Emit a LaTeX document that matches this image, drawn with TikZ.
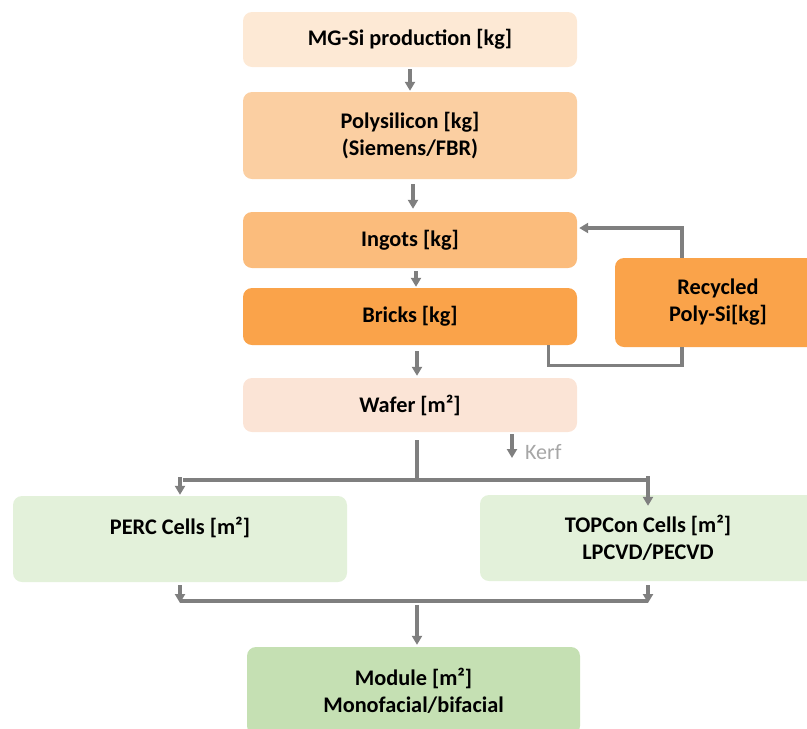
\documentclass[tikz,border=0pt]{standalone}
\usepackage{fontspec}
\setmainfont{Carlito}
\usetikzlibrary{arrows.meta,calc}

\definecolor{mgfill}{HTML}{FDE9D5}
\definecolor{polyfill}{HTML}{FBCFA2}
\definecolor{ingotfill}{HTML}{FBBC7C}
\definecolor{brickfill}{HTML}{FAA34A}
\definecolor{waferfill}{HTML}{FBE4D6}
\definecolor{cellfill}{HTML}{E3F1DA}
\definecolor{modfill}{HTML}{C5E0B3}
\definecolor{linegray}{HTML}{7F7F7F}
\definecolor{kerfgray}{HTML}{A6A6A6}

\begin{document}
\begin{tikzpicture}[x=1pt,y=-1pt,
  box/.style={rounded corners=9pt, inner sep=0pt, align=center,
    font=\bfseries\fontsize{22.3}{27}\selectfont},
  flow/.style={draw=linegray, line width=3.1pt,
    -{Triangle[length=9pt,width=10pt]}},
  link/.style={draw=linegray, line width=3.1pt}]
\useasboundingbox (0,0) rectangle (807,729);

% silicon chain
\node[box, fill=mgfill, minimum width=334pt, minimum height=55pt] (mg) at (410,39.5) {MG-Si production [kg]};
\node[box, fill=polyfill, minimum width=334pt, minimum height=87pt] (poly) at (410,135.5) {Polysilicon [kg]\\(Siemens/FBR)};
\node[box, fill=ingotfill, minimum width=334pt, minimum height=56pt] (ingots) at (410,240) {Ingots [kg]};
\node[box, fill=brickfill, minimum width=334pt, minimum height=57pt] (bricks) at (410,316.5) {Bricks [kg]};
\node[box, fill=brickfill, minimum width=206pt, minimum height=89pt] (rec) at (718,302.5) {Recycled\\Poly-Si[kg]};
\node[box, fill=waferfill, minimum width=334pt, minimum height=54pt] (wafer) at (410,405) {Wafer [m²]};

% cells and module
\node[box, fill=cellfill, minimum width=334pt, minimum height=86pt] (perc) at (180,539) {PERC Cells [m²]\\\mbox{}};
\node[box, fill=cellfill, minimum width=336pt, minimum height=86pt] (topcon) at (648,538) {TOPCon Cells [m²]\\LPCVD/PECVD};
\node[box, fill=modfill, minimum width=333pt, minimum height=88pt] (module) at (413.5,691) {Module [m²]\\Monofacial/bifacial};

\node[anchor=west, inner sep=0pt, text=kerfgray, font=\fontsize{22}{26}\selectfont] (kerf) at (525,452) {Kerf};

% main flow arrows
\draw[flow] ($(mg.south)+(0,2)$) -- ($(poly.north)+(0,-1)$);
\draw[flow] ($(poly.south)+(3,5)$) -- ($(ingots.north)+(3,-3)$);
\draw[flow] ($(ingots.south)+(6,3)$) -- ($(bricks.north)+(6,-1)$);
\draw[flow] ($(bricks.south)+(7,6)$) -- ($(wafer.north)+(7,-2)$);

% recycling loop
\draw[link] ($(bricks.south east)+(-29,0)$) -- ++(0,20) -| ($(rec.south)+(-36,0)$);
\draw[flow] ($(rec.north)+(-36,0)$) |- ($(ingots.east)+(2,-12)$);

% kerf loss
\coordinate (kerfend) at (512,458);
\draw[flow] (512,434) -- (kerfend);

% split to the two cell routes
\coordinate (split) at ($(wafer.south)+(7,48)$);
\coordinate (splitL) at (180,480);
\coordinate (splitR) at (648,480);
\draw[link] ($(wafer.south)+(7,8)$) -- (split);
\draw[link] ($(splitL)+(3,0)$) -- (splitR);
\draw[flow] ($(splitL)+(0,-3)$) -- ($(perc.north)+(0,-1)$);
\draw[flow] ($(splitR)+(0,-4)$) -- ($(topcon.north)+(0,11)$);

% merge into module
\coordinate (mergeL) at (180,601);
\coordinate (mergeR) at (648,601);
\draw[flow] ($(perc.south)+(0,3)$) -- ($(mergeL)+(0,2)$);
\draw[flow] ($(topcon.south)+(0,4)$) -- ($(mergeR)+(0,2)$);
\draw[link] (mergeL) -- (mergeR);
\draw[flow] ($(module.north)+(3.5,-42)$) -- ($(module.north)+(3.5,-2)$);
\end{tikzpicture}
\end{document}
